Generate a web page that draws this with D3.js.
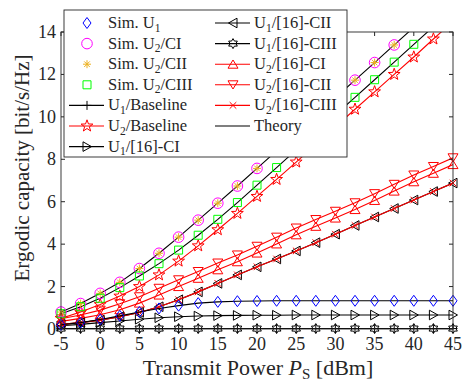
<html>
<head>
<script src='https://d3js.org/d3.v7.min.js'></script>
<style>
body {margin: 0; background: white;}
text {font-family: 'Liberation Serif', 'Times New Roman', serif; fill: #262626;}
</style>
</head>
<body>
<svg width=467 height=381></svg>
<script>

// transmit power (dBm)
var powerDbm = [-5, -2.5, 0, 2.5, 5, 7.5, 10, 12.5, 15, 17.5, 20, 22.5, 25, 27.5, 30, 32.5, 35, 37.5, 40, 42.5, 45]

var simU1      = [0.2, 0.3, 0.45, 0.62, 0.8, 0.97, 1.1, 1.22, 1.28, 1.31, 1.32, 1.33, 1.33, 1.33, 1.33, 1.33, 1.33, 1.33, 1.33, 1.33, 1.33]
var simU2CI    = [0.8, 1.2, 1.68, 2.2, 2.85, 3.57, 4.33, 5.13, 5.93, 6.74, 7.57, 8.4, 9.23, 10.06, 10.9, 11.73, 12.56, 13.39, 14.22, 15.05, 15.88]
var simU2CII   = [0.8, 1.2, 1.68, 2.2, 2.85, 3.57, 4.33, 5.13, 5.93, 6.74, 7.57, 8.4, 9.23, 10.06, 10.9, 11.73, 12.56, 13.39, 14.22, 15.05, 15.88]
var simU2CIII  = [0.72, 1.05, 1.45, 1.95, 2.5, 3.08, 3.72, 4.42, 5.17, 5.96, 6.78, 7.61, 8.44, 9.27, 10.1, 10.92, 11.75, 12.58, 13.42, 14.25, 15.08]
var u1Baseline = [0.02, 0.02, 0.02, 0.02, 0.02, 0.02, 0.02, 0.02, 0.02, 0.02, 0.02, 0.02, 0.02, 0.02, 0.02, 0.02, 0.02, 0.02, 0.02, 0.02, 0.02]
var u2Baseline = [0.5, 0.8, 1.15, 1.55, 2.0, 2.55, 3.2, 3.92, 4.68, 5.45, 6.25, 7.05, 7.87, 8.7, 9.53, 10.36, 11.18, 12.0, 12.82, 13.67, 14.5]
var u1Ref16CI   = [0.15, 0.22, 0.3, 0.38, 0.46, 0.53, 0.58, 0.61, 0.63, 0.64, 0.65, 0.65, 0.66, 0.66, 0.66, 0.66, 0.66, 0.66, 0.66, 0.66, 0.66]
var u1Ref16CII  = [0.22, 0.3, 0.42, 0.58, 0.78, 1.05, 1.38, 1.75, 2.15, 2.55, 2.93, 3.3, 3.68, 4.07, 4.47, 4.88, 5.28, 5.68, 6.08, 6.48, 6.88]
var u1Ref16CIII = [0.02, 0.02, 0.02, 0.02, 0.02, 0.02, 0.02, 0.02, 0.02, 0.02, 0.02, 0.02, 0.02, 0.02, 0.02, 0.02, 0.02, 0.02, 0.02, 0.02, 0.02]
var u2Ref16CI   = [0.36, 0.5, 0.67, 0.91, 1.22, 1.6, 2.0, 2.39, 2.79, 3.17, 3.58, 4.01, 4.44, 4.84, 5.23, 5.63, 6.06, 6.5, 6.94, 7.34, 7.75]
var u2Ref16CII  = [0.48, 0.66, 0.89, 1.19, 1.52, 1.92, 2.32, 2.71, 3.11, 3.49, 3.9, 4.33, 4.76, 5.16, 5.55, 5.95, 6.38, 6.82, 7.26, 7.66, 8.07]
var u2Ref16CIII = [0.22, 0.3, 0.42, 0.58, 0.78, 1.05, 1.38, 1.75, 2.15, 2.55, 2.93, 3.3, 3.68, 4.07, 4.47, 4.88, 5.28, 5.68, 6.08, 6.48, 6.88]

var xTicks = [-5, 0, 5, 10, 15, 20, 25, 30, 35, 40, 45]
var yTicks = [0, 2, 4, 6, 8, 10, 12, 14]

var plotLeft = 61, plotRight = 453, plotTop = 32, plotBottom = 329

var x = d3.scaleLinear().domain([-5, 45]).range([plotLeft, plotRight])
var y = d3.scaleLinear().domain([0, 14]).range([plotBottom, plotTop])

// marker shapes, centred at 0,0
function star(n, ro, ri) {
	var p = []
	for (var i = 0; i < 2 * n; i++) {
		var a = -Math.PI / 2 + i * Math.PI / n
		var r = i % 2 == 0 ? ro : ri
		p.push((r * Math.cos(a)).toFixed(2) + ',' + (r * Math.sin(a)).toFixed(2))
	}
	return 'M' + p.join('L') + 'Z'
}
var shapes = {
	diamond: 'M0,-5.5L4,0L0,5.5L-4,0Z',
	square: 'M-4,-4h8v8h-8Z',
	plus: 'M-4.5,0h9M0,-4.5v9',
	asterisk: 'M-4,0h8M0,-4v8M-2.8,-2.8L2.8,2.8M-2.8,2.8L2.8,-2.8',
	pentagram: star(5, 6.2, 2.5),
	hexagram: star(6, 5, 2.9),
	tright: 'M4.5,0L-4,-4.8L-4,4.8Z',
	tleft: 'M-4.5,0L4,-4.8L4,4.8Z',
	tup: 'M0,-4.2L5,4L-5,4Z',
	tdown: 'M0,4.2L5,-4L-5,-4Z',
	cross: 'M-3.3,-3.3L3.3,3.3M-3.3,3.3L3.3,-3.3'
}

var series = [
	{vals: u1Baseline, color: 'black', line: true, mark: 'plus'},
	{vals: u1Ref16CIII, color: 'black', line: true, mark: 'hexagram'},
	{vals: u1Ref16CI, color: 'black', line: true, mark: 'tright'},
	{vals: u2Ref16CI, color: 'red', line: true, mark: 'tup'},
	{vals: u2Ref16CII, color: 'red', line: true, mark: 'tdown'},
	{vals: u1Ref16CII, color: 'black', line: true, mark: 'tleft'},
	{vals: u2Ref16CIII, color: 'red', line: true, mark: 'cross'},
	{vals: u2Baseline, color: 'red', line: true, mark: 'pentagram'},
	{vals: simU1, color: 'black', line: true, mark: null},
	{vals: simU2CI, color: 'black', line: true, mark: null},
	{vals: simU2CIII, color: 'black', line: true, mark: null},
	{vals: simU1, color: 'blue', line: false, mark: 'diamond'},
	{vals: simU2CI, color: '#ff00ff', line: false, mark: 'circle'},
	{vals: simU2CII, color: '#edb120', line: false, mark: 'asterisk'},
	{vals: simU2CIII, color: '#00ff00', line: false, mark: 'square'}
]

var svg = d3.select('svg')

svg.append('defs').append('clipPath').attr('id', 'plotclip')
	.append('rect').attr('x', plotLeft).attr('y', plotTop).attr('width', plotRight - plotLeft).attr('height', plotBottom - plotTop)

function drawMarker(g, mark, color) {
	if (mark == 'circle') {
		g.append('circle').attr('r', 5.3).attr('fill', 'none').attr('stroke', color).attr('stroke-width', 1)
	} else {
		g.append('path').attr('d', shapes[mark]).attr('fill', 'none').attr('stroke', color).attr('stroke-width', 1)
	}
}

var line = d3.line().x(function(d, i) { return x(powerDbm[i]) }).y(function(d) { return y(d) })
var plot = svg.append('g')

series.forEach(function(s) {
	if (s.line) {
		plot.append('path').attr('d', line(s.vals)).attr('fill', 'none')
			.attr('stroke', s.color).attr('stroke-width', 1.1).attr('clip-path', 'url(#plotclip)')
	}
	if (s.mark) {
		s.vals.forEach(function(v, i) {
			if (v > 14) return
			var g = plot.append('g').attr('transform', 'translate(' + x(powerDbm[i]) + ',' + y(v) + ')')
			drawMarker(g, s.mark, s.color)
		})
	}
})

// axes box with inward ticks on all four sides
var axisColor = '#262626'
svg.append('rect').attr('x', plotLeft).attr('y', plotTop).attr('width', plotRight - plotLeft).attr('height', plotBottom - plotTop)
	.attr('fill', 'none').attr('stroke', axisColor).attr('stroke-width', 0.9)

xTicks.forEach(function(t) {
	svg.append('line').attr('x1', x(t)).attr('x2', x(t)).attr('y1', plotBottom).attr('y2', plotBottom - 4).attr('stroke', axisColor)
	svg.append('line').attr('x1', x(t)).attr('x2', x(t)).attr('y1', plotTop).attr('y2', plotTop + 4).attr('stroke', axisColor)
	svg.append('text').attr('x', x(t)).attr('y', plotBottom + 21).attr('text-anchor', 'middle')
		.attr('font-size', 18).text(t)
})
yTicks.forEach(function(t) {
	svg.append('line').attr('x1', plotLeft).attr('x2', plotLeft + 4).attr('y1', y(t)).attr('y2', y(t)).attr('stroke', axisColor)
	svg.append('line').attr('x1', plotRight).attr('x2', plotRight - 4).attr('y1', y(t)).attr('y2', y(t)).attr('stroke', axisColor)
	svg.append('text').attr('x', plotLeft - 5).attr('y', y(t) + 6).attr('text-anchor', 'end')
		.attr('font-size', 18).text(t)
})

// axis labels
var xl = svg.append('text').attr('x', 258).attr('y', 375).attr('text-anchor', 'middle').attr('font-size', 22)
xl.append('tspan').text('Transmit Power ')
xl.append('tspan').attr('font-style', 'italic').text('P')
xl.append('tspan').attr('font-size', 15).attr('dy', 4).text('S')
xl.append('tspan').attr('dy', -4).text(' [dBm]')

svg.append('text').attr('transform', 'translate(29,168) rotate(-90)').attr('text-anchor', 'middle')
	.attr('font-size', 21).text('Ergodic capacity [bit/s/Hz]')

// legend
var legendRows = [
	{col: 0, label: ['Sim. U', '1', ''], color: 'blue', line: false, mark: 'diamond'},
	{col: 0, label: ['Sim. U', '2', '/CI'], color: '#ff00ff', line: false, mark: 'circle'},
	{col: 0, label: ['Sim. U', '2', '/CII'], color: '#edb120', line: false, mark: 'asterisk'},
	{col: 0, label: ['Sim. U', '2', '/CIII'], color: '#00ff00', line: false, mark: 'square'},
	{col: 0, label: ['U', '1', '/Baseline'], color: 'black', line: true, mark: 'plus'},
	{col: 0, label: ['U', '2', '/Baseline'], color: 'red', line: true, mark: 'pentagram'},
	{col: 0, label: ['U', '1', '/[16]-CI'], color: 'black', line: true, mark: 'tright'},
	{col: 1, label: ['U', '1', '/[16]-CII'], color: 'black', line: true, mark: 'tleft'},
	{col: 1, label: ['U', '1', '/[16]-CIII'], color: 'black', line: true, mark: 'hexagram'},
	{col: 1, label: ['U', '2', '/[16]-CI'], color: 'red', line: true, mark: 'tup'},
	{col: 1, label: ['U', '2', '/[16]-CII'], color: 'red', line: true, mark: 'tdown'},
	{col: 1, label: ['U', '2', '/[16]-CIII'], color: 'red', line: true, mark: 'cross'},
	{col: 1, label: ['Theory', '', ''], color: 'black', line: true, mark: null}
]

var legend = svg.append('g')
legend.append('rect').attr('x', 64).attr('y', 10).attr('width', 283).attr('height', 147)
	.attr('fill', 'white').attr('stroke', axisColor).attr('stroke-width', 0.9)

var colX = [69, 215]
var rowCount = [0, 0]
legendRows.forEach(function(r) {
	var ry = 23 + rowCount[r.col] * 20.6
	rowCount[r.col]++
	var lx = colX[r.col]
	if (r.line) {
		legend.append('line').attr('x1', lx).attr('x2', lx + 35).attr('y1', ry).attr('y2', ry)
			.attr('stroke', r.color).attr('stroke-width', 1.1)
	}
	if (r.mark) {
		var g = legend.append('g').attr('transform', 'translate(' + (lx + 18) + ',' + ry + ')')
		drawMarker(g, r.mark, r.color)
	}
	var t = legend.append('text').attr('x', lx + 39).attr('y', ry + 5).attr('font-size', 16.5)
	t.append('tspan').text(r.label[0])
	if (r.label[1]) {
		t.append('tspan').attr('font-size', 11.5).attr('dy', 3.5).text(r.label[1])
		t.append('tspan').attr('dy', -3.5).text(r.label[2])
	}
})

</script>
</body>
</html>
